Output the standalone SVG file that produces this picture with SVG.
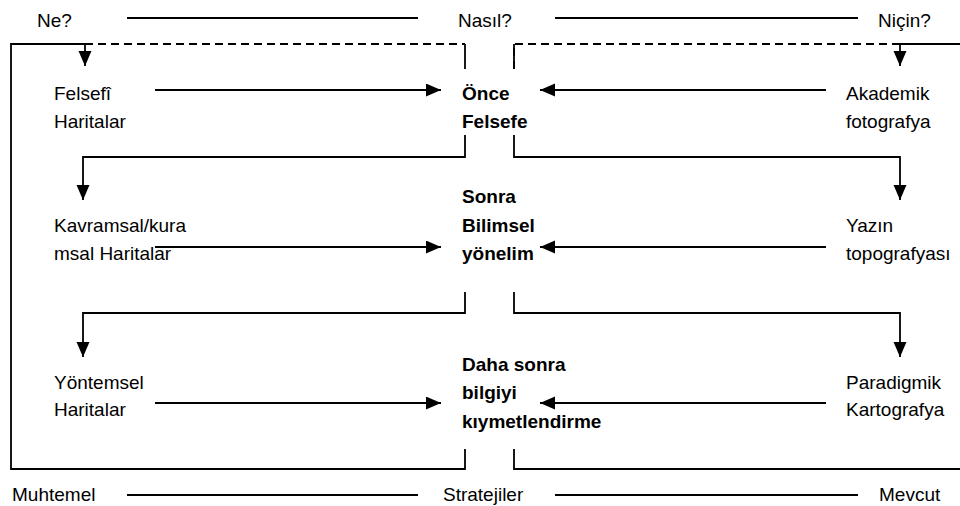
<svg xmlns="http://www.w3.org/2000/svg" width="960" height="506" viewBox="0 0 960 506">
<style>
text{font-family:"Liberation Sans",Arial,sans-serif;font-size:19px;fill:#000}
.b{font-weight:bold}
.ln{fill:none;stroke:#000;stroke-width:1.8}
.d{stroke-dasharray:8 5}
</style>
<defs>
<marker id="ah" markerUnits="userSpaceOnUse" markerWidth="16" markerHeight="14" refX="15" refY="6.5" orient="auto">
<path d="M0,0 L15,6.5 L0,13 z" fill="#000"/>
</marker>
</defs>
<rect width="960" height="506" fill="#fff"/>
<g id="connectors">
<line class="ln" x1="127" y1="18" x2="418" y2="18"/>
<line class="ln" x1="555" y1="18" x2="858" y2="18"/>
<line class="ln" x1="127" y1="495" x2="418" y2="495"/>
<line class="ln" x1="555" y1="495" x2="858" y2="495"/>
<path class="ln d" d="M85,44 H465"/>
<path class="ln" d="M465,44 V69"/>
<path class="ln d" d="M514,69 V44 H900"/>
<path class="ln" d="M514,44 V69"/>
<path class="ln" d="M900,44 H960"/>
<path class="ln" d="M85,44 H11 V469 H465 V449"/>
<path class="ln" d="M514,449 V469 H960"/>
<path class="ln" d="M85,44 V66" marker-end="url(#ah)"/>
<path class="ln" d="M900,44 V66" marker-end="url(#ah)"/>
<path class="ln" d="M155,90 H441" marker-end="url(#ah)"/>
<path class="ln" d="M826,90 H540" marker-end="url(#ah)"/>
<path class="ln" d="M465,135 V157 H83 V200" marker-end="url(#ah)"/>
<path class="ln" d="M514,135 V157 H900 V200" marker-end="url(#ah)"/>
<path class="ln" d="M155,247 H441" marker-end="url(#ah)"/>
<path class="ln" d="M826,247 H540" marker-end="url(#ah)"/>
<path class="ln" d="M465,292 V313 H83 V357" marker-end="url(#ah)"/>
<path class="ln" d="M514,292 V313 H900 V357" marker-end="url(#ah)"/>
<path class="ln" d="M155,403 H441" marker-end="url(#ah)"/>
<path class="ln" d="M826,403 H540" marker-end="url(#ah)"/>
</g>
<g id="ne"><text x="37" y="27">Ne?</text></g>
<g id="nasil"><text x="458" y="27">Nasıl?</text></g>
<g id="nicin"><text x="878" y="27">Niçin?</text></g>
<g id="felsefi"><text x="54" y="100">Felsefî</text><text x="54" y="128">Haritalar</text></g>
<g id="once"><text class="b" x="462" y="100">Önce</text><text class="b" x="462" y="128">Felsefe</text></g>
<g id="akademik"><text x="846" y="100">Akademik</text><text x="846" y="128">fotografya</text></g>
<g id="kavramsal"><text x="54" y="232">Kavramsal/kura</text><text x="54" y="260">msal Haritalar</text></g>
<g id="sonra"><text class="b" x="462" y="203">Sonra</text><text class="b" x="462" y="232">Bilimsel</text><text class="b" x="462" y="260">yönelim</text></g>
<g id="yazin"><text x="846" y="232">Yazın</text><text x="846" y="260">topografyası</text></g>
<g id="yontemsel"><text x="54" y="389">Yöntemsel</text><text x="54" y="416">Haritalar</text></g>
<g id="dahasonra"><text class="b" x="462" y="371">Daha sonra</text><text class="b" x="462" y="399">bilgiyi</text><text class="b" x="462" y="428">kıymetlendirme</text></g>
<g id="paradigmik"><text x="846" y="389">Paradigmik</text><text x="846" y="416">Kartografya</text></g>
<g id="muhtemel"><text x="12" y="501">Muhtemel</text></g>
<g id="stratejiler"><text x="443" y="501">Stratejiler</text></g>
<g id="mevcut"><text x="879" y="501">Mevcut</text></g>
</svg>
